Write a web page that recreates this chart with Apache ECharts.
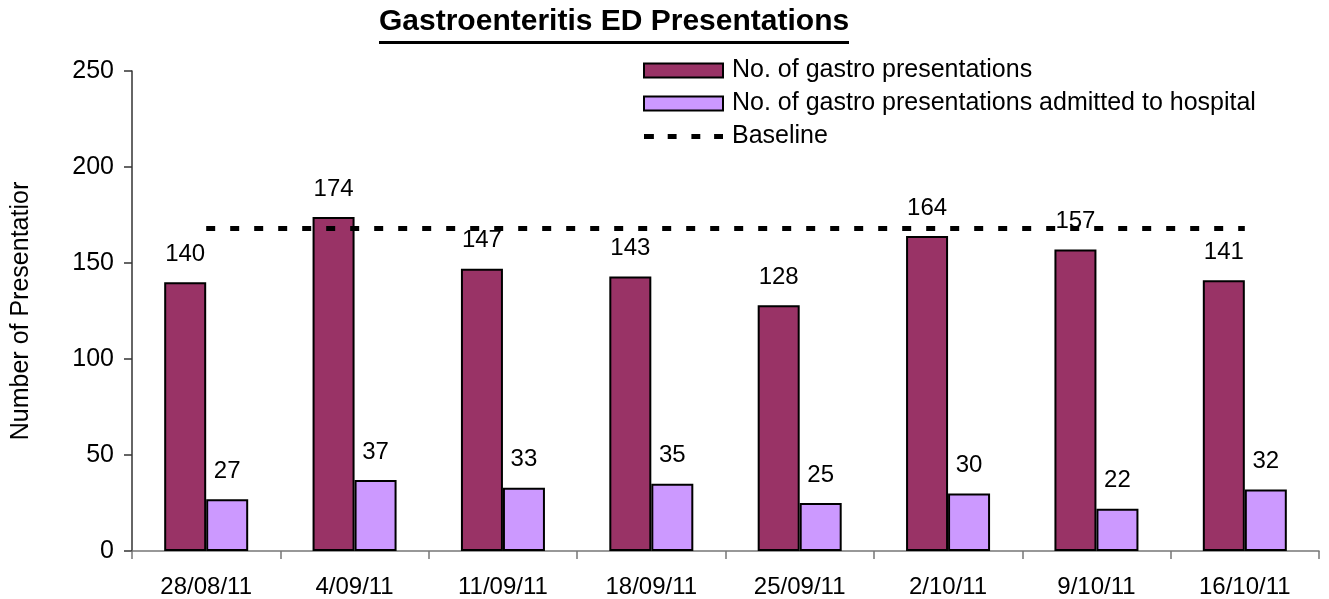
<!DOCTYPE html>
<html>
<head>
<meta charset="utf-8">
<title>Gastroenteritis ED Presentations</title>
<script src="https://cdn.jsdelivr.net/npm/echarts@6/dist/echarts.min.js"></script>
<style>
  html, body { margin: 0; padding: 0; background: #fff; }
  #chart { width: 1329px; height: 599px; }
</style>
</head>
<body>
<div id="chart"></div>
<script>
// weeks shown on the x axis
var weeks = ['28/08/11', '4/09/11', '11/09/11', '18/09/11', '25/09/11', '2/10/11', '9/10/11', '16/10/11']
// weekly counts
var presentations = [140, 174, 147, 143, 128, 164, 157, 141]
var admitted = [27, 37, 33, 35, 25, 30, 22, 32]
var baseline = [168, 168, 168, 168, 168, 168, 168, 168]

var FONT = '"Liberation Sans", Arial, sans-serif'
// dashed line icon for the baseline legend entry
var DASH_ICON = 'path://M0 0h10v5h-10z M24 0h9v5h-9z M48 0h9v5h-9z M71 0h9v5h-9z'

var myChart = echarts.init(document.getElementById('chart'))

myChart.setOption({
  animation: false,
  textStyle: { fontFamily: FONT, color: '#000' },
  title: {
    text: 'Gastroenteritis ED Presentations',
    left: 379,
    top: 7,
    padding: 0,
    textStyle: { fontFamily: FONT, fontSize: 30, fontWeight: 'bold', color: '#000' }
  },
  // underline under the title
  graphic: [{
    type: 'rect',
    shape: { x: 379, y: 41, width: 470, height: 3 },
    style: { fill: '#000' },
    silent: true
  }],
  legend: {
    orient: 'vertical',
    left: 643,
    top: 58,
    padding: 0,
    itemWidth: 79,
    itemHeight: 14,
    itemGap: 8,
    textStyle: { fontFamily: FONT, fontSize: 25, color: '#000', padding: [0, 0, 0, 4] },
    data: [
      { name: 'No. of gastro presentations', icon: 'rect' },
      { name: 'No. of gastro presentations admitted to hospital', icon: 'rect' },
      { name: 'Baseline', icon: DASH_ICON }
    ]
  },
  grid: {
    left: 132,
    right: 10,
    top: 71,
    bottom: 47
  },
  xAxis: {
    type: 'category',
    data: weeks,
    axisLine: { lineStyle: { color: '#777', width: 1.5 } },
    axisTick: { show: true, length: 8, lineStyle: { color: '#777', width: 1.5 } },
    axisLabel: { fontFamily: FONT, fontSize: 24, color: '#000', margin: 24 }
  },
  yAxis: {
    type: 'value',
    min: 0,
    max: 250,
    interval: 50,
    name: 'Number of Presentatior',
    nameLocation: 'middle',
    nameGap: 98,
    nameTextStyle: { fontFamily: FONT, fontSize: 25, color: '#000' },
    splitLine: { show: false },
    axisLine: { show: true, lineStyle: { color: '#333', width: 1.5 } },
    axisTick: { show: true, length: 8, lineStyle: { color: '#333', width: 1.5 } },
    axisLabel: { fontFamily: FONT, fontSize: 25, color: '#000', margin: 18 }
  },
  series: [
    {
      name: 'No. of gastro presentations',
      type: 'bar',
      data: presentations,
      barWidth: 42,
      barGap: '0%',
      itemStyle: { color: '#993366', borderColor: '#000', borderWidth: 2 },
      label: { show: true, position: 'top', distance: 16, fontFamily: FONT, fontSize: 24, color: '#000' }
    },
    {
      name: 'No. of gastro presentations admitted to hospital',
      type: 'bar',
      data: admitted,
      barWidth: 42,
      barGap: '0%',
      itemStyle: { color: '#CC99FF', borderColor: '#000', borderWidth: 2 },
      label: { show: true, position: 'top', distance: 16, fontFamily: FONT, fontSize: 24, color: '#000' }
    },
    {
      name: 'Baseline',
      type: 'line',
      data: baseline,
      symbol: 'none',
      z: 3,
      lineStyle: { color: '#000', width: 5, type: [9, 15] },
      itemStyle: { color: '#000' }
    }
  ]
})
</script>
</body>
</html>
